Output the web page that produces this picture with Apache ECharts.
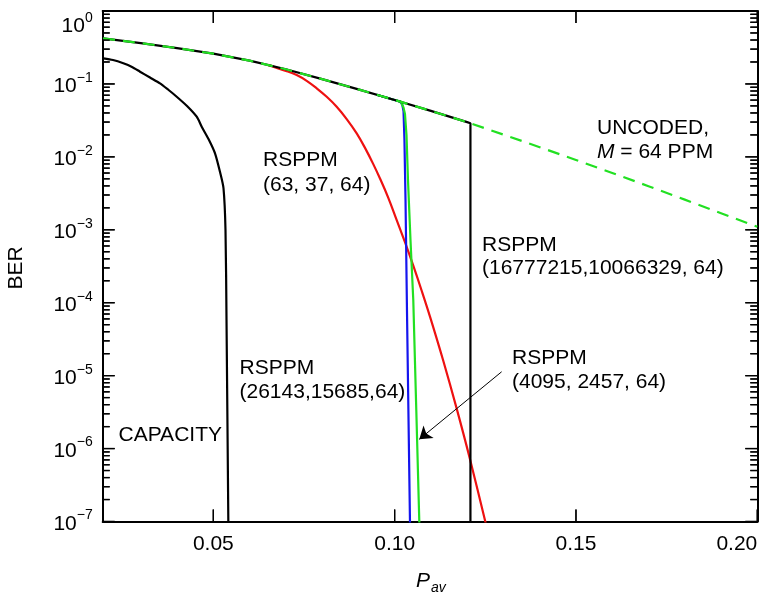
<!DOCTYPE html>
<html>
<head>
<meta charset="utf-8">
<script src="https://cdn.jsdelivr.net/npm/echarts@6/dist/echarts.min.js"></script>
<style>
  html, body { margin: 0; padding: 0; background: #fff; }
  #chart { width: 759px; height: 595px; }
</style>
</head>
<body>
<div id="chart"></div>
<script>
const FONT = '"Liberation Sans", Arial, Helvetica, sans-serif';

// Axis ticks
const xTicks = [0.05, 0.10, 0.15, 0.20];
const yDecades = [1e-7, 1e-6, 1e-5, 1e-4, 1e-3, 1e-2, 1e-1, 1];
const yMinorSteps = [2, 3, 4, 5, 6, 7, 8, 9];

// Uncoded M = 64 PPM
const uncodedP   = [0.0196, 0.03, 0.04, 0.05, 0.06, 0.07, 0.08, 0.09, 0.10, 0.11, 0.12, 0.13, 0.14, 0.15, 0.16, 0.17, 0.18, 0.19, 0.20];
const uncodedBER = [0.4223, 0.3630, 0.3099, 0.2597, 0.2083, 0.1587, 0.1165, 0.0841, 0.0602, 0.0427, 0.0299, 0.0202, 0.01357, 0.00906, 0.00601, 0.00396, 0.00259, 0.00169, 0.00110];

// RSPPM (16777215, 10066329, 64): follows uncoded, then drops at the threshold
const hugeP   = [0.0196, 0.03, 0.04, 0.05, 0.06, 0.07, 0.08, 0.09, 0.10, 0.11, 0.12, 0.1209, 0.1209];
const hugeBER = [0.4223, 0.3630, 0.3099, 0.2597, 0.2083, 0.1587, 0.1165, 0.0841, 0.0602, 0.0427, 0.0299, 0.0289, 7.5e-8];

// Capacity
const capP   = [0.01967, 0.02234, 0.02519, 0.02758, 0.02979, 0.03254, 0.03530, 0.03751, 0.03991, 0.04275, 0.04542, 0.04680, 0.04881, 0.05047, 0.05185, 0.05281, 0.05336, 0.05364, 0.05414, 0.05416];
const capBER = [0.2246, 0.2129, 0.1918, 0.1707, 0.1472, 0.1225, 0.1020, 0.0839, 0.0668, 0.0498, 0.0355, 0.0259, 0.01703, 0.01119, 0.00620, 0.00371, 9.93e-4, 5.79e-5, 1.0e-7, 7.5e-8];

// RSPPM (63, 37, 64)
const rs63P   = [0.065, 0.07024, 0.07299, 0.07575, 0.07851, 0.08127, 0.08402, 0.08678, 0.08954, 0.09183, 0.09411, 0.09596, 0.09817, 0.10057, 0.10285, 0.10514, 0.10746, 0.10975, 0.11333, 0.11711, 0.12078, 0.12491, 0.12546];
const rs63BER = [0.1824, 0.1495, 0.1326, 0.1104, 0.0871, 0.0666, 0.0487, 0.0330, 0.0210, 0.01327, 0.00795, 0.00505, 0.00281, 0.00136, 6.76e-4, 3.22e-4, 1.46e-4, 6.45e-5, 1.65e-5, 3.53e-6, 7.15e-7, 1.04e-7, 7.97e-8];

// RSPPM (26143, 15685, 64)
const rs26P   = [0.095, 0.10, 0.1015, 0.1021, 0.10245, 0.1027, 0.1030, 0.1034, 0.10423, 0.10426];
const rs26BER = [0.0712, 0.0602, 0.0572, 0.0520, 0.0420, 0.0170, 0.00256, 7.95e-5, 1.0e-7, 7.5e-8];

// RSPPM (4095, 2457, 64)
const rs40P   = [0.095, 0.10, 0.1017, 0.1019, 0.10244, 0.10285, 0.10327, 0.10368, 0.10437, 0.10514, 0.10597, 0.10680, 0.10683];
const rs40BER = [0.0712, 0.0602, 0.0573, 0.0555, 0.0475, 0.0387, 0.0199, 0.00482, 7.24e-4, 1.09e-4, 3.38e-6, 1.0e-7, 7.5e-8];

// Pointer from the (4095, 2457, 64) label to its curve
const arrowFrom = [0.1295, 1.13e-5];
const arrowTo   = [0.1068, 1.34e-6];

const X_MIN = 0.0195, X_MAX = 0.2;
const Y_MIN = 1e-7, Y_MAX = 1;

const pairs = (xs, ys) => xs.map((x, i) => [x, ys[i]]);

// Tick marks on all four frame edges: [x, y, side, length]
// side: 0 bottom, 1 top, 2 left, 3 right (ticks point into the plot)
const MAJOR = 12, MINOR = 7;
const tickData = [];
xTicks.forEach(v => {
  tickData.push([v, Y_MIN, 0, MAJOR]);
  tickData.push([v, Y_MAX, 1, MAJOR]);
});
yDecades.forEach(d => {
  tickData.push([X_MIN, d, 2, MAJOR]);
  tickData.push([X_MAX, d, 3, MAJOR]);
  if (d < 1) {
    yMinorSteps.forEach(m => {
      const v = +(m * d).toPrecision(3);
      tickData.push([X_MIN, v, 2, MINOR]);
      tickData.push([X_MAX, v, 3, MINOR]);
    });
  }
});

// End point of a tick that starts at pixel p on the given side
const tickEnd = (p, side, len) => {
  let x2 = p[0], y2 = p[1];
  if (side === 0) y2 -= len;
  else if (side === 1) y2 += len;
  else if (side === 2) x2 += len;
  else x2 -= len;
  return [x2, y2];
};

const frameStyle = { color: '#000', width: 2 };

const xLabel = v => xTicks.some(t => Math.abs(t - v) < 1e-6) ? v.toFixed(2) : '';
const expLabel = v => {
  const e = Math.round(Math.log10(v));
  return '{b|10}{s|' + (e === 0 ? '0' : '\u2212' + (-e)) + '}';
};

const textItems = [
  { type: 'text', left: 263, top: 148, style: { text: 'RSPPM\n(63, 37, 64)', fontSize: 21, fontFamily: FONT, lineHeight: 25, fill: '#000' } },
  { type: 'text', left: 597, top: 116.5, style: {
      text: 'UNCODED,\n{i|M} = 64 PPM', fontSize: 21, fontFamily: FONT, lineHeight: 23.5, fill: '#000',
      rich: { i: { fontStyle: 'italic', fontSize: 21, fontFamily: FONT, lineHeight: 23.5, fill: '#000' } } } },
  { type: 'text', left: 482, top: 233, style: { text: 'RSPPM\n(16777215,10066329, 64)', fontSize: 21, fontFamily: FONT, lineHeight: 23.5, fill: '#000' } },
  { type: 'text', left: 239.5, top: 356.5, style: { text: 'RSPPM\n(26143,15685,64)', fontSize: 21, fontFamily: FONT, lineHeight: 23.5, fill: '#000' } },
  { type: 'text', left: 118.5, top: 423, style: { text: 'CAPACITY', fontSize: 21, fontFamily: FONT, lineHeight: 23.5, fill: '#000' } },
  { type: 'text', left: 512, top: 346.5, style: { text: 'RSPPM\n(4095, 2457, 64)', fontSize: 21, fontFamily: FONT, lineHeight: 23.5, fill: '#000' } },
  { type: 'text', x: 16, y: 268, rotation: Math.PI / 2,
    style: { text: 'BER', fontSize: 21, fontFamily: FONT, fill: '#000', align: 'center', verticalAlign: 'middle' } },
  { type: 'text', x: 416, y: 581.5,
    style: { text: 'P', fontSize: 21, fontStyle: 'italic', fontFamily: FONT, fill: '#000', align: 'left', verticalAlign: 'middle' } },
  { type: 'text', x: 431, y: 588.5,
    style: { text: 'av', fontSize: 14, fontStyle: 'italic', fontFamily: FONT, fill: '#000', align: 'left', verticalAlign: 'middle' } }
];

const option = {
  animation: false,
  backgroundColor: '#fff',
  grid: { left: 102.7, top: 11, width: 654.6, height: 510.5, containLabel: false, outerBoundsMode: 'none' },
  xAxis: [
    {
      type: 'value', min: X_MIN, max: X_MAX, position: 'bottom',
      minInterval: 0.05, maxInterval: 0.05,
      splitLine: { show: false },
      axisLine: { show: true, onZero: false, lineStyle: frameStyle },
      axisTick: { show: false },
      axisLabel: {
        show: true, formatter: xLabel,
        fontSize: 21, fontFamily: FONT, color: '#000', margin: 12, alignMaxLabel: 'right'
      }
    },
    {
      type: 'value', min: X_MIN, max: X_MAX, position: 'top',
      splitLine: { show: false },
      axisLine: { show: true, onZero: false, lineStyle: frameStyle },
      axisTick: { show: false },
      axisLabel: { show: false }
    }
  ],
  yAxis: [
    {
      type: 'log', logBase: 10, min: Y_MIN, max: Y_MAX, position: 'left',
      splitLine: { show: false },
      axisLine: { show: true, onZero: false, lineStyle: frameStyle },
      axisTick: { show: false },
      minorTick: { show: false },
      axisLabel: {
        show: true, formatter: expLabel, margin: 10,
        verticalAlignMaxLabel: 'top',
        rich: {
          b: { fontSize: 21, lineHeight: 26, verticalAlign: 'bottom', fontFamily: FONT, color: '#000' },
          s: { fontSize: 14, lineHeight: 14, verticalAlign: 'top', fontFamily: FONT, color: '#000' }
        }
      }
    },
    {
      type: 'log', logBase: 10, min: Y_MIN, max: Y_MAX, position: 'right',
      splitLine: { show: false },
      axisLine: { show: true, onZero: false, lineStyle: frameStyle },
      axisTick: { show: false },
      minorTick: { show: false },
      axisLabel: { show: false }
    }
  ],
  series: [
    {
      name: 'ticks', type: 'custom', coordinateSystem: 'cartesian2d', xAxisIndex: 0, yAxisIndex: 0,
      silent: true, clip: false, z: 1, data: tickData,
      renderItem: (params, api) => {
        const p = api.coord([api.value(0), api.value(1)]);
        const q = tickEnd(p, api.value(2), api.value(3));
        return {
          type: 'line',
          shape: { x1: p[0], y1: p[1], x2: q[0], y2: q[1] },
          style: { stroke: '#000', lineWidth: 1.3 }
        };
      }
    },
    {
      name: 'CAPACITY', type: 'line', data: pairs(capP, capBER), symbol: 'none', smooth: 0.25,
      clip: true, lineStyle: { color: '#000', width: 2.2 }, z: 2
    },
    {
      name: 'RSPPM (63, 37, 64)', type: 'line', data: pairs(rs63P, rs63BER), symbol: 'none', smooth: 0.4,
      clip: true, lineStyle: { color: '#ee1111', width: 2.2 }, z: 3
    },
    {
      name: 'RSPPM (26143,15685,64)', type: 'line', data: pairs(rs26P, rs26BER), symbol: 'none',
      clip: true, lineStyle: { color: '#1515ee', width: 2.2 }, z: 4
    },
    {
      name: 'RSPPM (4095, 2457, 64)', type: 'line', data: pairs(rs40P, rs40BER), symbol: 'none',
      clip: true, lineStyle: { color: '#22e022', width: 2.2 }, z: 5,
      markLine: {
        silent: true, animation: false,
        symbol: ['none', 'arrow'], symbolSize: 12,
        label: { show: false },
        lineStyle: { color: '#000', width: 1, type: 'solid' },
        data: [[{ coord: arrowFrom }, { coord: arrowTo }]]
      }
    },
    {
      name: 'RSPPM (16777215,10066329, 64)', type: 'line', data: pairs(hugeP, hugeBER), symbol: 'none',
      clip: true, lineStyle: { color: '#000', width: 2.2 }, z: 6
    },
    {
      name: 'UNCODED, M = 64 PPM', type: 'line', data: pairs(uncodedP, uncodedBER), symbol: 'none',
      clip: true, lineStyle: { color: '#22e022', width: 2.2, type: [12, 8] }, z: 7
    }
  ],
  graphic: textItems
};

const chart = echarts.init(document.getElementById('chart'), null, { renderer: 'canvas' });
chart.setOption(option);

// Tick marks placed through the grid's own scales
const tickLines = [];
tickData.forEach(t => {
  const p = chart.convertToPixel({ gridIndex: 0 }, [t[0], t[1]]);
  if (!p || !isFinite(p[0]) || !isFinite(p[1])) return;
  const q = tickEnd(p, t[2], t[3]);
  tickLines.push({
    type: 'line', silent: true, z: 100,
    shape: { x1: p[0], y1: p[1], x2: q[0], y2: q[1] },
    style: { stroke: '#000', lineWidth: 1.3 }
  });
});
chart.setOption({ graphic: textItems.concat(tickLines) });
</script>
</body>
</html>
